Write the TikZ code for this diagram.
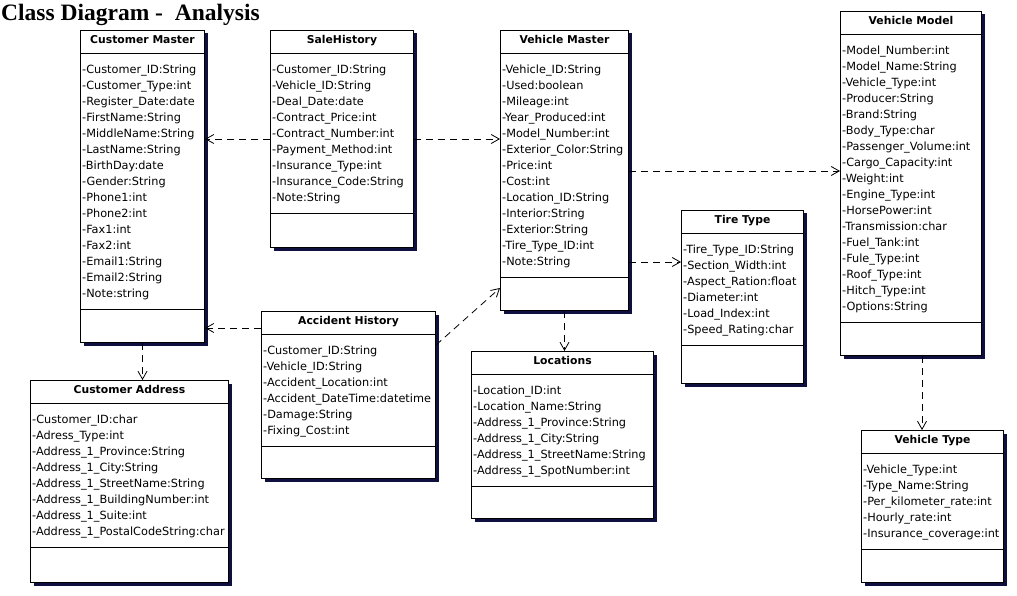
\documentclass[tikz,border=0pt]{standalone}
\usepackage{fontspec}
\setmainfont{Liberation Serif}
\setsansfont{DejaVu Sans}
\usetikzlibrary{arrows.meta,shadows}
\definecolor{shadownavy}{RGB}{16,16,64}

\begin{document}
\begin{tikzpicture}[x=1pt,y=-1pt,
	classbox/.style={draw,line width=1pt,fill=white,inner sep=0pt,anchor=north west,
		drop shadow={shadow xshift=3pt,shadow yshift=-3pt,fill=shadownavy,opacity=1}},
	classname/.style={font=\sffamily\bfseries\fontsize{10.8}{13}\selectfont,inner sep=0pt,anchor=base},
	attr/.style={font=\sffamily\fontsize{11.3}{16}\selectfont,inner sep=0pt,anchor=base west},
	dep/.style={line width=0.8pt,dash pattern=on 7pt off 5pt,-{Straight Barb[length=8pt,width=9pt]}}]
	\fill[white] (0,0) rectangle (1017,596);
	\useasboundingbox (0,0) rectangle (1017,596);
	\node[font=\bfseries\fontsize{23.5}{28}\selectfont,inner sep=0pt,anchor=base west] (title) at (1,21) {Class Diagram -\ \ Analysis};
	% Customer Master
	\node[classbox,minimum width=124,minimum height=312] (cm) at (80,30) {};
	\node[classname] (cmname) at ([yshift=-13.5pt]cm.north) {Customer Master};
	\draw ([yshift=-23pt]cm.north west) -- ([yshift=-23pt]cm.north east);
	\draw ([yshift=-279pt]cm.north west) -- ([yshift=-279pt]cm.north east);
	\foreach \a [count=\i] in {-Customer\_ID:String,-Customer\_Type:int,-Register\_Date:date,-FirstName:String,-MiddleName:String,-LastName:String,-BirthDay:date,-Gender:String,-Phone1:int,-Phone2:int,-Fax1:int,-Fax2:int,-Email1:String,-Email2:String,-Note:string}
		\node[attr] (cm\i) at ([xshift=2pt,yshift={-27.5-16*\i}]cm.north west) {\a};
	% SaleHistory
	\node[classbox,minimum width=143,minimum height=217] (sh) at (270,30) {};
	\node[classname] (shname) at ([yshift=-13.5pt]sh.north) {SaleHistory};
	\draw ([yshift=-23pt]sh.north west) -- ([yshift=-23pt]sh.north east);
	\draw ([yshift=-183pt]sh.north west) -- ([yshift=-183pt]sh.north east);
	\foreach \a [count=\i] in {-Customer\_ID:String,-Vehicle\_ID:String,-Deal\_Date:date,-Contract\_Price:int,-Contract\_Number:int,-Payment\_Method:int,-Insurance\_Type:int,-Insurance\_Code:String,-Note:String}
		\node[attr] (sh\i) at ([xshift=2pt,yshift={-27.5-16*\i}]sh.north west) {\a};
	% Vehicle Master
	\node[classbox,minimum width=128,minimum height=280] (vm) at (500,30) {};
	\node[classname] (vmname) at ([yshift=-13.5pt]vm.north) {Vehicle Master};
	\draw ([yshift=-23pt]vm.north west) -- ([yshift=-23pt]vm.north east);
	\draw ([yshift=-247pt]vm.north west) -- ([yshift=-247pt]vm.north east);
	\foreach \a [count=\i] in {-Vehicle\_ID:String,-Used:boolean,-Mileage:int,-Year\_Produced:int,-Model\_Number:int,-Exterior\_Color:String,-Price:int,-Cost:int,-Location\_ID:String,-Interior:String,-Exterior:String,-Tire\_Type\_ID:int,-Note:String}
		\node[attr] (vm\i) at ([xshift=2pt,yshift={-27.5-16*\i}]vm.north west) {\a};
	% Vehicle Model
	\node[classbox,minimum width=141,minimum height=344] (vmod) at (840,11) {};
	\node[classname] (vmodname) at ([yshift=-13.5pt]vmod.north) {Vehicle Model};
	\draw ([yshift=-23pt]vmod.north west) -- ([yshift=-23pt]vmod.north east);
	\draw ([yshift=-311pt]vmod.north west) -- ([yshift=-311pt]vmod.north east);
	\foreach \a [count=\i] in {-Model\_Number:int,-Model\_Name:String,-Vehicle\_Type:int,-Producer:String,-Brand:String,-Body\_Type:char,-Passenger\_Volume:int,-Cargo\_Capacity:int,-Weight:int,-Engine\_Type:int,-HorsePower:int,-Transmission:char,-Fuel\_Tank:int,-Fule\_Type:int,-Roof\_Type:int,-Hitch\_Type:int,-Options:String}
		\node[attr] (vmod\i) at ([xshift=2pt,yshift={-27.5-16*\i}]vmod.north west) {\a};
	% Customer Address
	\node[classbox,minimum width=198,minimum height=202] (ca) at (30,380) {};
	\node[classname] (caname) at ([yshift=-13.5pt]ca.north) {Customer Address};
	\draw ([yshift=-23pt]ca.north west) -- ([yshift=-23pt]ca.north east);
	\draw ([yshift=-167pt]ca.north west) -- ([yshift=-167pt]ca.north east);
	\foreach \a [count=\i] in {-Customer\_ID:char,-Adress\_Type:int,-Address\_1\_Province:String,-Address\_1\_City:String,-Address\_1\_StreetName:String,-Address\_1\_BuildingNumber:int,-Address\_1\_Suite:int,-Address\_1\_PostalCodeString:char}
		\node[attr] (ca\i) at ([xshift=2pt,yshift={-27.5-16*\i}]ca.north west) {\a};
	% Accident History
	\node[classbox,minimum width=174,minimum height=167] (ah) at (261,311) {};
	\node[classname] (ahname) at ([yshift=-13.5pt]ah.north) {Accident History};
	\draw ([yshift=-23pt]ah.north west) -- ([yshift=-23pt]ah.north east);
	\draw ([yshift=-135pt]ah.north west) -- ([yshift=-135pt]ah.north east);
	\foreach \a [count=\i] in {-Customer\_ID:String,-Vehicle\_ID:String,-Accident\_Location:int,-Accident\_DateTime:datetime,-Damage:String,-Fixing\_Cost:int}
		\node[attr] (ah\i) at ([xshift=2pt,yshift={-27.5-16*\i}]ah.north west) {\a};
	% Locations
	\node[classbox,minimum width=182,minimum height=167] (loc) at (471,351) {};
	\node[classname] (locname) at ([yshift=-13.5pt]loc.north) {Locations};
	\draw ([yshift=-23pt]loc.north west) -- ([yshift=-23pt]loc.north east);
	\draw ([yshift=-135pt]loc.north west) -- ([yshift=-135pt]loc.north east);
	\foreach \a [count=\i] in {-Location\_ID:int,-Location\_Name:String,-Address\_1\_Province:String,-Address\_1\_City:String,-Address\_1\_StreetName:String,-Address\_1\_SpotNumber:int}
		\node[attr] (loc\i) at ([xshift=2pt,yshift={-27.5-16*\i}]loc.north west) {\a};
	% Tire Type
	\node[classbox,minimum width=122,minimum height=173] (tt) at (681,210) {};
	\node[classname] (ttname) at ([yshift=-13.5pt]tt.north) {Tire Type};
	\draw ([yshift=-23pt]tt.north west) -- ([yshift=-23pt]tt.north east);
	\draw ([yshift=-135pt]tt.north west) -- ([yshift=-135pt]tt.north east);
	\foreach \a [count=\i] in {-Tire\_Type\_ID:String,-Section\_Width:int,-Aspect\_Ration:float,-Diameter:int,-Load\_Index:int,-Speed\_Rating:char}
		\node[attr] (tt\i) at ([xshift=2pt,yshift={-27.5-16*\i}]tt.north west) {\a};
	% Vehicle Type
	\node[classbox,minimum width=142,minimum height=152] (vt) at (861,430) {};
	\node[classname] (vtname) at ([yshift=-13.5pt]vt.north) {Vehicle Type};
	\draw ([yshift=-23pt]vt.north west) -- ([yshift=-23pt]vt.north east);
	\draw ([yshift=-119pt]vt.north west) -- ([yshift=-119pt]vt.north east);
	\foreach \a [count=\i] in {-Vehicle\_Type:int,-Type\_Name:String,-Per\_kilometer\_rate:int,-Hourly\_rate:int,-Insurance\_coverage:int}
		\node[attr] (vt\i) at ([xshift=2pt,yshift={-27.5-16*\i}]vt.north west) {\a};
	% dependencies
	\coordinate (ahout) at ([yshift=-17pt]ah.north west);
	\coordinate (ahup) at ([yshift=-34pt]ah.north east);
	\coordinate (vmin) at ([yshift=23pt]vm.south west);
	\coordinate (ttin) at ([yshift=-52pt]tt.north west);
	\coordinate (vmodin) at ([yshift=-160pt]vmod.north west);
	\coordinate (vmodout) at ([xshift=82pt]vmod.south west);
	\draw[dep] (sh.west) -- (cm.east |- sh.west);
	\draw[dep] (sh.east) -- (vm.west |- sh.east);
	\draw[dep] (ahout) -- (cm.east |- ahout);
	\draw[dep] (ahup) -- (vmin);
	\draw[dep] (cm.south) -- (cm.south |- ca.north);
	\draw[dep] (vm.south) -- (vm.south |- loc.north);
	\draw[dep] (vm.east |- ttin) -- (ttin);
	\draw[dep] (vm.east |- vmodin) -- (vmodin);
	\draw[dep] (vmodout) -- (vmodout |- vt.north);
\end{tikzpicture}
\end{document}
